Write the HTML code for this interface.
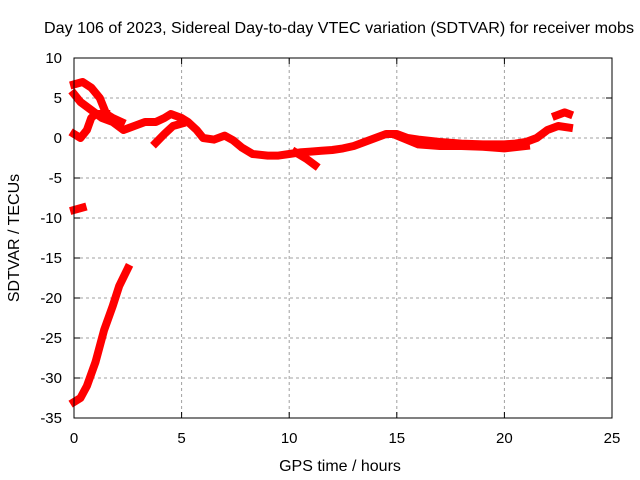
<!DOCTYPE html>
<html><head><meta charset="utf-8"><style>
body{margin:0;background:#fff}
svg{display:block;font-family:"Liberation Sans",sans-serif}
</style></head><body>
<svg id="chart" width="640" height="480">
<rect width="640" height="480" fill="#fff"/>
<text x="339" y="33" font-size="16" text-anchor="middle" textLength="590" lengthAdjust="spacingAndGlyphs">Day 106 of 2023, Sidereal Day-to-day VTEC variation (SDTVAR) for receiver mobs</text>
<g id="grid"></g>
<g id="ticks"></g>
<g id="series"></g>
<rect x="74" y="58" width="538" height="360" fill="none" stroke="#000" stroke-width="1"/>
<text x="340" y="471" font-size="16" text-anchor="middle">GPS time / hours</text>
<text transform="translate(19,238) rotate(-90)" font-size="16" text-anchor="middle">SDTVAR / TECUs</text>
</svg>
<script>
const xTicks=[0,5,10,15,20,25];
const yTicks=[10,5,0,-5,-10,-15,-20,-25,-30,-35];
const segA=[[0,6.7],[0.4,7],[0.8,6.3],[1.2,5],[1.5,3],[1.8,2.5],[2.2,2]];
const segB=[[0,5.5],[0.3,4.5],[0.8,3.5],[1.3,2.5],[1.8,2],[2.3,1],[2.8,1.5],[3.3,2],[3.8,2],[4.2,2.5],[4.5,3],[5,2.5],[5.3,2],[5.7,1],[6,0],[6.5,-0.2],[7,0.3],[7.4,-0.3],[7.8,-1.2],[8.3,-2],[9,-2.2],[9.5,-2.2],[10,-2],[10.5,-1.8],[11,-1.7],[11.5,-1.6],[12,-1.5],[12.5,-1.3],[13,-1],[13.5,-0.5],[14,0],[14.5,0.5],[15,0.5],[15.5,0],[16,-0.2],[17,-0.5],[18,-0.7],[19,-0.8],[20,-0.8],[20.5,-0.7],[21,-0.5],[21.5,0],[22,1],[22.5,1.5],[23,1.3]];
const segC=[[0,0.5],[0.3,0],[0.6,1],[0.8,2.5],[1,3],[1.5,3]];
const segD=[[3.8,-0.6],[4.2,0.5],[4.6,1.5],[5,1.8]];
const segE=[[10.3,-1.8],[10.8,-2.6],[11.2,-3.4]];
const segF=[[0,-9],[0.4,-8.7]];
const segG=[[0,-33],[0.3,-32.5],[0.6,-31],[1,-28],[1.4,-24],[1.8,-21],[2.1,-18.5],[2.5,-16.3]];
const segH=[[22.4,2.8],[22.8,3.2],[23,3]];
const segI=[[15,0.3],[16,-0.8],[17,-1],[18,-1],[19,-1.1],[20,-1.3],[21,-1]];
const segments=[segA,segB,segC,segD,segE,segF,segG,segH,segI];
const X=h=>74+h*538/25, Y=v=>58+(10-v)*8;
const NS="http://www.w3.org/2000/svg";
const grid=document.getElementById('grid'),ticks=document.getElementById('ticks'),series=document.getElementById('series');
function mk(t,a,p){const e=document.createElementNS(NS,t);for(const k in a)e.setAttribute(k,a[k]);p.appendChild(e);return e;}
xTicks.forEach(t=>{
 const x=X(t);
 if(t>0&&t<25){const g=mk('line',{x1:x,x2:x,y1:58,y2:418,stroke:'#a0a0a0','stroke-dasharray':'3,3'},grid);
 
 }
 mk('line',{x1:x,x2:x,y1:418,y2:412,stroke:'#000'},ticks);mk('line',{x1:x,x2:x,y1:58,y2:64,stroke:'#000'},ticks);
 const l=mk('text',{x:x,y:443,'font-size':15,'text-anchor':'middle'},ticks);l.textContent=t;
 
 
});
yTicks.forEach(t=>{
 const y=Y(t);
 if(t<10&&t>-35){const g=mk('line',{x1:74,x2:612,y1:y,y2:y,stroke:'#a0a0a0','stroke-dasharray':'3,3'},grid);
 
 }
 mk('line',{x1:74,x2:80,y1:y,y2:y,stroke:'#000'},ticks);mk('line',{x1:606,x2:612,y1:y,y2:y,stroke:'#000'},ticks);
 const l=mk('text',{x:62,y:y+5,'font-size':15,'text-anchor':'end'},ticks);l.textContent=t;
 
 
});
segments.forEach(s=>{
 const p=mk('polyline',{points:s.map(d=>X(d[0])+','+Y(d[1])).join(' '),fill:'none',stroke:'#ff0000','stroke-width':8,'stroke-linejoin':'round','stroke-linecap':'square'},series);
 
 
});
</script>
</body></html>
